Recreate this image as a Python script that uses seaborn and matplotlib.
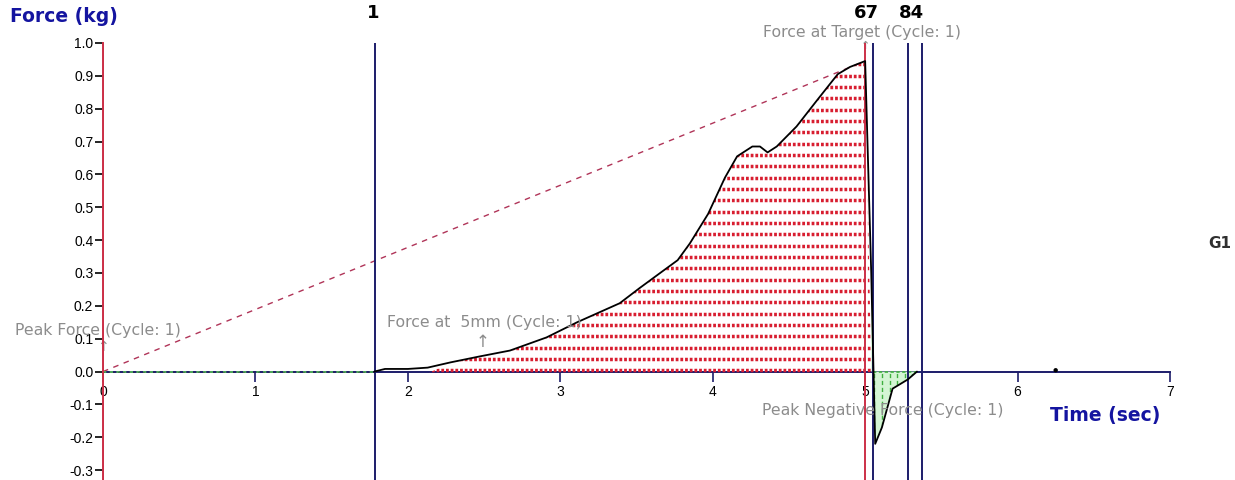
import numpy as np
import pandas as pd
import matplotlib
matplotlib.use("Agg")
import matplotlib.pyplot as plt
import matplotlib.transforms as mtransforms
import seaborn as sns

# ---------------- data ----------------
time_sec = [0.0, 0.5, 1.0, 1.5, 1.78, 1.85, 2.0, 2.13, 2.28, 2.47, 2.67, 2.91, 3.11,
            3.39, 3.52, 3.655, 3.77, 3.85, 3.97, 4.08, 4.16, 4.26, 4.31, 4.36, 4.42,
            4.55, 4.69, 4.82, 4.90, 5.00, 5.04, 5.066, 5.11, 5.18, 5.28, 5.34]
force_kg = [0.0, 0.0, 0.0, 0.0, 0.0, 0.008, 0.008, 0.012, 0.028, 0.046, 0.064, 0.104, 0.150,
            0.208, 0.254, 0.300, 0.339, 0.390, 0.480, 0.590, 0.655, 0.685, 0.685, 0.667, 0.685,
            0.746, 0.829, 0.905, 0.927, 0.945, 0.30, -0.22, -0.17, -0.052, -0.024, 0.0]

navy_marker_times = [1.785, 5.05, 5.28, 5.37]
red_marker_times = [0.0, 5.0]
marker_label_times = [1.77, 5.01, 5.305]
marker_labels = ["1", "67", "84"]

stray_point_time = [6.25]
stray_point_force = [0.004]

xtick_values = [0, 1, 2, 3, 4, 5, 6, 7]
xtick_labels = ["0", "1", "2", "3", "4", "5", "6", "7"]
ytick_values = [-0.3, -0.2, -0.1, 0.0, 0.1, 0.2, 0.3, 0.4, 0.5, 0.6, 0.7, 0.8, 0.9, 1.0]
ytick_labels = ["-0.3", "-0.2", "-0.1", "0.0", "0.1", "0.2", "0.3", "0.4", "0.5",
                "0.6", "0.7", "0.8", "0.9", "1.0"]

peak_label = "Peak Force (Cycle: 1)"
fivemm_label = "Force at  5mm (Cycle: 1)"
fivemm_time = 2.49
target_label = "Force at Target (Cycle: 1)"
negpeak_label = "Peak Negative Force (Cycle: 1)"

# ---------------- style ----------------
sns.set_theme(style="white")
plt.rcParams['font.family'] = ['DejaVu Sans']

W, H = 1235, 480
fig = plt.figure(figsize=(W / 100, H / 100), dpi=100)
fig.patch.set_facecolor("white")
ax = fig.add_axes([103 / W, 0, 1067 / W, 437 / H])
ax.set_facecolor("white")
ax.set_xlim(0, 7)
ax.set_ylim(-0.330, 1.0)

navy = "#1c1c6a"
red = "#cc3048"
gray = "#8c8c8c"

df = pd.DataFrame({"Time": time_sec, "Force": force_kg})
t = np.array(time_sec)
f = np.array(force_kg)

# red dotted fill under the positive part of the curve
pos_mask = (t >= 2.2) & (t <= 5.0)
poly_pos = ax.fill_between(t, -0.006, f, where=pos_mask, interpolate=True,
                           facecolor="none", edgecolor="none", zorder=3)
path_pos = poly_pos.get_paths()[0]
for yv in np.arange(0.004, 1.0, 0.0345):
    ln, = ax.plot([2.0, 5.05], [yv, yv], color="#d81e30", lw=2.5,
                  linestyle=(0, (0.8, 0.55)), solid_capstyle="butt",
                  dash_capstyle="butt", zorder=3)
    ln.set_clip_path(path_pos, ax.transData)

# green hatch fill for the negative part
poly_neg = ax.fill_between(t, 0, f, where=(t >= 5.04), interpolate=True,
                           facecolor="#d4f5d4", edgecolor="none", zorder=3)
path_neg = poly_neg.get_paths()[0]
for xv in np.arange(5.06, 5.36, 0.05):
    ln, = ax.plot([xv, xv], [-0.25, 0.0], color="#40b040", lw=1.0,
                  linestyle=(0, (3, 2)), zorder=3.2)
    ln.set_clip_path(path_neg, ax.transData)
ax.plot([5.05, 5.34], [0, 0], color="#40b040", lw=1.2, linestyle=(0, (2, 1.5)), zorder=3.3)

# dashed line from origin to peak
ipk = int(np.argmax(f))
ax.plot([t[0], t[ipk]], [f[0], f[ipk]], color="#b03458", lw=1.0,
        linestyle=(0, (4, 4)), zorder=3)

# green dotted baseline before first marker
base = df[df["Time"] <= 1.78]
sns.lineplot(data=base, x="Time", y="Force", ax=ax, color="#58c058", lw=1.2,
             linestyle=(0, (2, 2)), estimator=None, sort=False, zorder=4)
ax.plot(base["Time"], base["Force"], color="#303030", lw=0.6,
        linestyle=(0, (1, 5)), zorder=4)

# main force curve
curve = df[df["Time"] >= 1.78]
sns.lineplot(data=curve, x="Time", y="Force", ax=ax, color="black", lw=1.3,
             estimator=None, sort=False, zorder=5)

# stray point
sns.scatterplot(x=stray_point_time, y=stray_point_force, ax=ax, color="black",
                s=10, edgecolor="none", zorder=5)

# marker lines
for mt in navy_marker_times:
    ax.axvline(mt, color=navy, lw=1.4, zorder=4)
for mt in red_marker_times:
    ax.axvline(mt, color=red, lw=1.4, zorder=4.5)

# spines
for s in ["top", "right"]:
    ax.spines[s].set_visible(False)
ax.spines["left"].set_color(red)
ax.spines["left"].set_linewidth(1.4)
ax.spines["left"].set_zorder(4.6)
ax.spines["bottom"].set_position(("data", 0))
ax.spines["bottom"].set_color(navy)
ax.spines["bottom"].set_linewidth(1.4)
ax.spines["bottom"].set_zorder(2.5)

ax.set_xticks(xtick_values)
ax.set_xticklabels(xtick_labels)
ax.set_yticks(ytick_values)
ax.set_yticklabels(ytick_labels)
ax.tick_params(axis="x", direction="out", length=7, width=1.2, color=navy,
               labelsize=10, pad=3, labelcolor="black", bottom=True)
ax.tick_params(axis="y", direction="out", length=6, width=1.2, color="black",
               labelsize=10, pad=1, labelcolor="black", left=True)
for lbl in ax.get_xticklabels() + ax.get_yticklabels():
    lbl.set_fontfamily("Liberation Sans")
ax.set_xlabel("")
ax.set_ylabel("")
ax.grid(False)

# marker labels at the top
blend = mtransforms.blended_transform_factory(ax.transData, fig.transFigure)
for mt, lab in zip(marker_label_times, marker_labels):
    ax.text(mt, 1 - 13 / H, lab, transform=blend, ha="center", va="center",
            fontsize=13, fontweight="bold", color="black", clip_on=False)

# annotations
def fx(px):
    return px / W

def fy(py):
    return 1 - py / H

fig.text(fx(10), fy(16), "Force (kg)", fontsize=13.5, fontweight="bold",
         color="#1414a0", ha="left", va="center")
fig.text(fx(1050), fy(416), "Time (sec)", fontsize=13.5, fontweight="bold",
         color="#1414a0", ha="left", va="center")
fig.text(fx(1208), fy(243), "G1", fontsize=11, color="#303030",
         ha="left", va="center", fontweight="bold")

fig.text(fx(15), fy(330), peak_label, fontsize=11.3, color=gray, ha="left", va="center")
ax.text(0.0, 0.075, "\u2191", fontsize=10, color=gray, ha="center", va="center")

fig.text(fx(387), fy(322), fivemm_label, fontsize=11.3, color=gray, ha="left", va="center")
ax.text(fivemm_time, 0.09, "\u2191", fontsize=12, color=gray, ha="center", va="center")

fig.text(fx(763), fy(32), target_label, fontsize=11.3, color=gray, ha="left", va="center")
ax.text(t[ipk], 0.99, "\u2191", fontsize=8, color=gray, ha="center", va="center",
        clip_on=False)

fig.text(fx(1003), fy(410), negpeak_label, fontsize=11.3, color=gray,
         ha="right", va="center")

fig.savefig("out.png", dpi=100, facecolor="white")
